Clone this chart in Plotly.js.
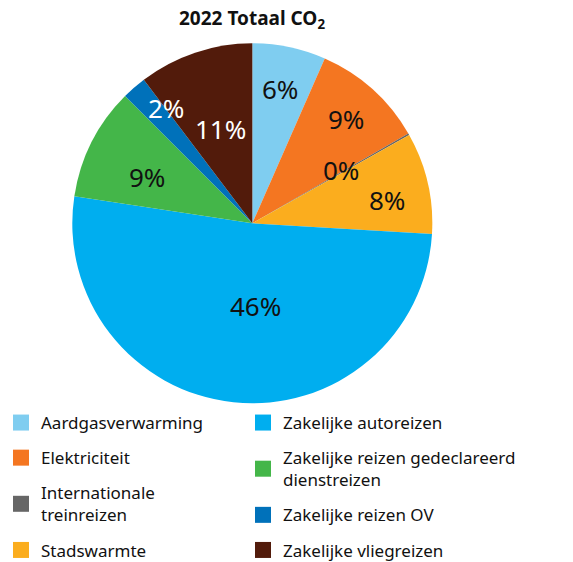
<!DOCTYPE html>
<html>
<head>
<meta charset="utf-8">
<script src="https://cdn.plot.ly/plotly-3.0.1.min.js"></script>
<style>html,body{margin:0;padding:0;background:#fff;}#chart{width:573px;height:562px;}</style>
</head>
<body>
<div id="chart"></div>
<script>
// Categories (slice order, clockwise from 12 o'clock)
const categories = [
  "Aardgasverwarming",
  "Elektriciteit",
  "Internationale treinreizen",
  "Stadswarmte",
  "Zakelijke autoreizen",
  "Zakelijke reizen gedeclareerd dienstreizen",
  "Zakelijke reizen OV",
  "Zakelijke vliegreizen"
];
// Legend labels (wrapped as in the reference)
const legendNames = [
  "Aardgasverwarming",
  "Elektriciteit",
  "Internationale<br>treinreizen",
  "Stadswarmte",
  "Zakelijke autoreizen",
  "Zakelijke reizen gedeclareerd<br>dienstreizen",
  "Zakelijke reizen OV",
  "Zakelijke vliegreizen"
];
// Slice shares as drawn in the picture (%)
const shares = [6.6, 10.1, 0.15, 9.1, 51.5, 10.1, 2.2, 10.3];
// Printed percentage labels
const pctLabels = ["6%", "9%", "0%", "8%", "46%", "9%", "2%", "11%"];

// Styling
const colors = ["#7fcdf0", "#f47621", "#666666", "#fbad1e", "#00aeef", "#44b649", "#0071ba", "#521b0b"];
const labelColors = ["#111", "#111", "#111", "#111", "#111", "#111", "#fff", "#fff"];
// label placement: fraction of radius along the slice bisector, plus small angular nudge (deg)
const labelRadius = [0.76, 0.78, 0.575, 0.76, 0.46, 0.64, 0.80, 0.555];
const labelNudge = [0, 0, -1.5, 3, -8, -3, 4, 0];

const W = 573, H = 562;
const R = 180;
const CX = 252.3, CY = 223.3;
const domX = [(CX - R) / W, (CX + R) / W];
const domY = [1 - (CY + R) / H, 1 - (CY - R) / H];

const pie = {
  type: "pie",
  labels: categories,
  values: shares,
  textinfo: "none",
  sort: false,
  direction: "clockwise",
  rotation: 0,
  marker: { colors: colors, line: { width: 0 } },
  domain: { x: domX, y: domY },
  showlegend: false,
  hoverinfo: "label+percent"
};

// Legend entries (two columns)
const legendTraces = categories.map((c, i) => ({
  type: "scatter",
  x: [null], y: [null],
  mode: "markers",
  name: legendNames[i],
  legend: i < 4 ? "legend" : "legend2",
  legendgroup: "g" + i,
  marker: { symbol: "square", size: 16, color: colors[i] },
  hoverinfo: "skip"
}));

// Percentage labels placed on each slice's bisector
const annotations = [];
const total = shares.reduce((a, b) => a + b, 0);
let cum = 0;
shares.forEach((v, i) => {
  const ang = 2 * Math.PI * (cum + v / 2) / total + labelNudge[i] * Math.PI / 180;
  const px = CX + labelRadius[i] * R * Math.sin(ang);
  const py = CY - labelRadius[i] * R * Math.cos(ang);
  annotations.push({
    xref: "paper", yref: "paper", x: px / W, y: 1 - py / H,
    xanchor: "center", yanchor: "middle",
    text: pctLabels[i], showarrow: false,
    font: { family: "Noto Sans", size: 26, color: labelColors[i] }
  });
  cum += v;
});

const legendFont = { family: "Noto Sans", size: 17, color: "#111" };
const layout = {
  width: W, height: H,
  margin: { l: 0, r: 0, t: 0, b: 0, autoexpand: false },
  paper_bgcolor: "#fff", plot_bgcolor: "#fff",
  title: {
    text: "2022 Totaal CO<sub>2</sub>",
    font: { family: "Noto Sans", size: 19, color: "#111", weight: "bold" },
    x: 252 / W, xanchor: "center", y: 1 - 18 / H, yanchor: "middle"
  },
  xaxis: { visible: false, fixedrange: true },
  yaxis: { visible: false, fixedrange: true },
  legend: {
    x: 1 / W, xanchor: "left", y: 1 - 405 / H, yanchor: "top",
    font: legendFont, tracegroupgap: 10, bgcolor: "rgba(0,0,0,0)"
  },
  legend2: {
    x: 243 / W, xanchor: "left", y: 1 - 405 / H, yanchor: "top",
    font: legendFont, tracegroupgap: 10, bgcolor: "rgba(0,0,0,0)"
  },
  annotations: annotations,
  showlegend: true
};

Plotly.newPlot("chart", [pie].concat(legendTraces), layout, { displayModeBar: false, staticPlot: true });
</script>
</body>
</html>
